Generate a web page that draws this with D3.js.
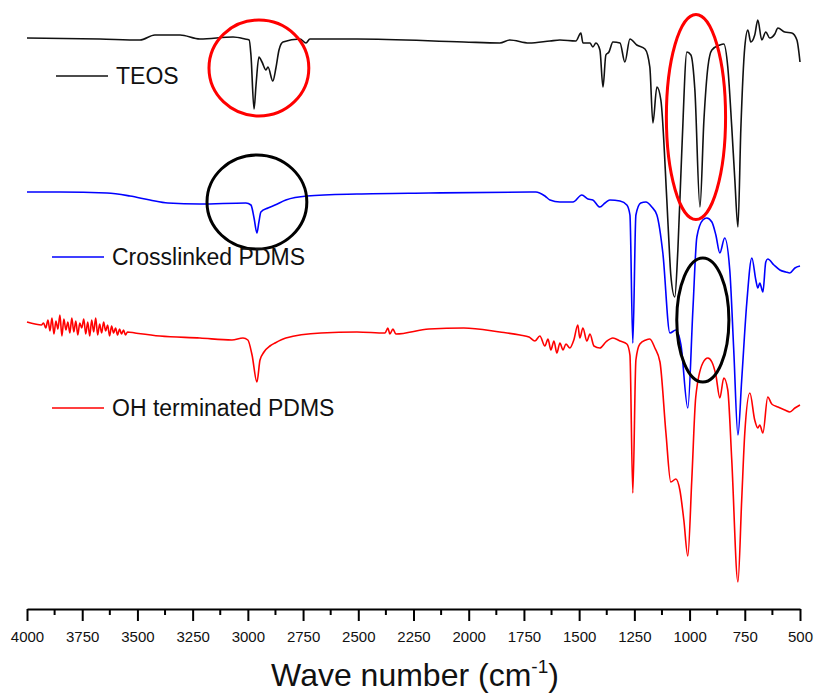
<!DOCTYPE html>
<html>
<head>
<meta charset="utf-8">
<script src="https://cdn.jsdelivr.net/npm/d3@7"></script>
<style>
  body { margin: 0; background: #fff; }
  text { font-family: "Liberation Sans", Arial, sans-serif; }
</style>
</head>
<body>
<div id="chart"></div>
<script>
// spectra as [wave number, offset transmittance] pairs
var teos = [
    [4000,113.8],[3670,113.6],[3488,113.4],[3421,114.4],[3307,114.4],[3217,113.6],[3067,114],
    [3013,113.6],[2994,113.4],[2986,110.4],[2972,99.6],[2963,104.4],[2950,110],[2936,109],
    [2918,107.4],[2909,108],[2887,105.2],[2873,107.8],[2859,111.4],[2841,113],[2764,113.6],
    [2737,112.8],[2719,113.6],[2506,113.6],[2022,113],[1859,112.8],[1814,113.4],[1727,112.8],
    [1632,113.2],[1587,113.4],[1515,113.2],[1492,114.8],[1483,112.8],[1451,112.8],[1438,112],
    [1424,112.8],[1406,111.4],[1392,104],[1379,110.4],[1365,111],[1347,113],[1315,112.8],
    [1293,109],[1270,113.6],[1239,112.4],[1202,111.6],[1180,108],[1166,96.8],[1148,104],
    [1130,101.4],[1103,81.4],[1090,70],[1085,66.4],[1067,62],[1053,71.4],[1035,91.4],
    [1012,111],[994,110.4],[976,103.4],[953,80],[935,97.4],[917,108],[899,111.4],[863,112.4],
    [845,112.6],[827,108],[809,96],[795,85.4],[781,76],[768,95.4],[750,112],[736,115.4],
    [723,113],[705,114.4],[691,117.4],[673,113.4],[655,115],[637,113.8],[614,114.6],
    [600,115.8],[569,115],[537,114.8],[514,113.4],[500,109]
];

var crosslinked = [
    [4000,83],[3851,83],[3638,82.8],[3534,82.2],[3443,81.4],[3362,80.8],[3217,80.6],[3009,80.8],
    [2986,80.4],[2972,77.8],[2959,74.8],[2950,77],[2941,79],[2909,79.8],[2877,80.4],[2828,81.4],
    [2732,82.2],[2506,82.6],[2180,82.8],[1696,83],[1655,82.2],[1632,81.4],[1587,81],
    [1528,81],[1488,82.4],[1460,81.6],[1438,81.4],[1406,80],[1383,80.8],[1361,81.4],
    [1315,81.2],[1284,80.4],[1270,78.4],[1257,52.8],[1243,78.4],[1221,80.8],[1198,81],
    [1171,80],[1148,78.4],[1121,70.8],[1089,54.8],[1062,55.4],[1039,52.4],[1008,39.8],
    [985,59.4],[967,74],[940,77.4],[922,77.8],[899,77],[881,74.4],[863,70.8],[841,73.8],
    [818,67.4],[800,51.4],[781,34.4],[764,45.4],[741,60.8],[718,69.8],[700,65.4],[691,63.8],
    [682,64.8],[668,63],[655,69],[646,69.6],[618,68.4],[591,67.4],[564,67],[546,66.8],
    [523,67.8],[500,68.2]
];

var ohPdms = [
    [4000,57],[3964,56.6],[3935,56.4],[3925,56.8],[3915,55.8],[3905,57.4],[3896,55.2],[3887,57.8],
    [3878,54.6],[3869,57.2],[3860,55.6],[3851,58.4],[3842,54.2],[3833,57.6],[3824,55.4],
    [3815,57],[3806,54.8],[3797,57.8],[3788,55],[3779,57.2],[3770,54.4],[3761,56.8],[3752,55.8],
    [3743,57.6],[3734,54.6],[3725,57],[3716,54.2],[3707,57.4],[3698,55],[3689,57.8],[3680,54.4],
    [3671,56.6],[3662,54.8],[3653,57],[3644,55.2],[3635,56.4],[3626,54.2],[3617,56.2],
    [3608,54.8],[3599,55.8],[3590,54.4],[3581,55.6],[3572,54.6],[3563,55.4],[3554,54.4],
    [3545,55],[3511,54.8],[3398,54.2],[3217,53.8],[3072,53.4],[3022,53.8],
    [3000,53.4],[2981,50.4],[2959,45],[2945,49.4],[2927,51],[2900,52.2],[2877,52.8],[2828,53.8],
    [2669,54.8],[2506,55],[2379,54.8],[2366,55.8],[2357,54.6],[2343,55.6],[2330,54.6],[2180,55.6],
    [2022,55.8],[1859,55],[1768,54.4],[1727,54],[1700,53.2],[1678,54.2],[1655,52.2],[1641,53.6],
    [1628,51.4],[1614,53.2],[1601,50.8],[1587,52.8],[1573,51.4],[1560,52.6],[1542,51.8],
    [1524,53.4],[1506,56.4],[1497,53.8],[1483,55.8],[1465,53.2],[1451,54.6],[1433,52.2],
    [1406,51.8],[1379,53],[1347,53.8],[1315,53.2],[1284,52.6],[1270,50.4],[1257,22.8],
    [1243,49.4],[1225,52.6],[1198,53.4],[1180,53.6],[1157,51.8],[1134,49],[1107,34.8],
    [1085,25],[1062,25.6],[1044,23.4],[1026,17.4],[1008,10.2],[990,25.4],[972,42],[940,48.8],
    [917,49.8],[899,49],[881,46.4],[863,41.8],[845,45.8],[827,43.4],[809,29.4],[781,5],
    [764,21.4],[750,34.8],[727,42.8],[705,37.4],[691,35.8],[682,36.4],[668,34.8],[646,42],
    [628,40.6],[600,40],[569,39.4],[546,39],[523,39.8],[500,40.4]
];

var seriesNames = ['TEOS', 'Crosslinked PDMS', 'OH terminated PDMS'];
var seriesColors = ['#111111', '#0000ff', '#ff0000'];
var majorTicks = [4000,3750,3500,3250,3000,2750,2500,2250,2000,1750,1500,1250,1000,750,500];
var minorTicks = [3875,3625,3375,3125,2875,2625,2375,2125,1875,1625,1375,1125,875,625];

// highlight rings: centre wave number, centre value, half width (cm-1), half height
var rings = [
    { w: 2950, v: 107.8, rw: 226, rv: 9.6, color: '#ff0000' },
    { w: 971, v: 98, rw: 134, rv: 20.5, color: '#ff0000' },
    { w: 2959, v: 81, rw: 226, rv: 9.4, color: '#000000' },
    { w: 940, v: 57.4, rw: 118, rv: 12.4, color: '#000000' }
];

var width = 815,
    height = 693,
    axisY = 609;

var x = d3.scaleLinear().domain([4000, 500]).range([27, 800]);
var y = d3.scaleLinear().domain([0, 120]).range([607, 7]);

var svg = d3.select('#chart').append('svg')
    .attr('width', width)
    .attr('height', height);

var line = d3.line()
    .curve(d3.curveMonotoneX)
    .x(function(d) { return x(d[0]); })
    .y(function(d) { return y(d[1]); });

[teos, crosslinked, ohPdms].forEach(function(s, i) {
    svg.append('path')
        .datum(s)
        .attr('d', line)
        .attr('fill', 'none')
        .attr('stroke', seriesColors[i])
        .attr('stroke-width', 1.6)
        .attr('stroke-linejoin', 'round');
});

// rings on top
svg.selectAll('ellipse.ring')
    .data(rings)
    .enter().append('ellipse')
    .attr('class', 'ring')
    .attr('cx', function(d) { return x(d.w); })
    .attr('cy', function(d) { return y(d.v); })
    .attr('rx', function(d) { return x(d.w - d.rw) - x(d.w); })
    .attr('ry', function(d) { return y(d.v - d.rv) - y(d.v); })
    .attr('fill', 'none')
    .attr('stroke', function(d) { return d.color; })
    .attr('stroke-width', 3);

// legend entries sit beside each trace
var legendY = [76, 257, 408];
var legendX = [[56, 108], [52, 104], [52, 104]];
seriesNames.forEach(function(name, i) {
    svg.append('line')
        .attr('x1', legendX[i][0]).attr('x2', legendX[i][1])
        .attr('y1', legendY[i]).attr('y2', legendY[i])
        .attr('stroke', seriesColors[i])
        .attr('stroke-width', 1.6);
    svg.append('text')
        .attr('x', legendX[i][1] + 8)
        .attr('y', legendY[i] + 8)
        .attr('font-size', 23)
        .attr('fill', '#111')
        .text(name);
});

// bottom axis: major ticks with labels, minor ticks without
var axis = svg.append('g')
    .attr('transform', 'translate(0,' + axisY + ')')
    .call(d3.axisBottom(x).tickValues(majorTicks).tickSize(12).tickSizeOuter(0).tickPadding(10)
        .tickFormat(d3.format('d')));
axis.select('.domain').attr('stroke-width', 2);
axis.selectAll('.tick line').attr('stroke-width', 2);
axis.selectAll('.tick text')
    .attr('font-size', 15)
    .attr('font-family', '"Liberation Sans", Arial, sans-serif')
    .attr('fill', '#111');

svg.append('g')
    .attr('transform', 'translate(0,' + axisY + ')')
    .selectAll('line')
    .data(minorTicks)
    .enter().append('line')
    .attr('x1', function(d) { return x(d); })
    .attr('x2', function(d) { return x(d); })
    .attr('y1', 0).attr('y2', 6)
    .attr('stroke', '#000')
    .attr('stroke-width', 2);

var title = svg.append('text')
    .attr('x', 415)
    .attr('y', 686)
    .attr('text-anchor', 'middle')
    .attr('font-size', 32)
    .attr('fill', '#111');
title.append('tspan').text('Wave number (cm');
title.append('tspan').attr('font-size', 19).attr('dy', -13).text('-1');
title.append('tspan').attr('dy', 13).text(')');
</script>
</body>
</html>
